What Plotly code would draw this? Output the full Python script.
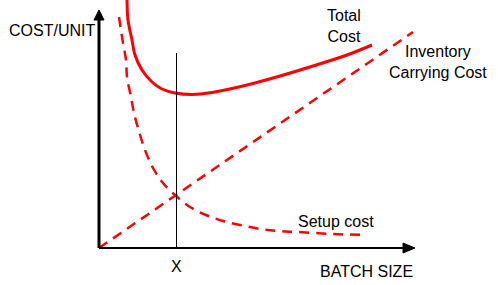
import plotly.graph_objects as go

# Data (units: arbitrary cost/batch units)
total_x = [28, 29, 33, 36, 43, 53, 63, 76, 93, 113, 148, 181, 214, 248, 273]
total_y = [248, 228, 208, 193, 178, 166, 159, 155, 153.5, 155.5, 163, 172, 182, 193, 203]

setup_x = [20, 24, 27, 28, 32, 35, 39, 46, 54, 64, 76, 91, 107, 124, 141, 161, 178, 198, 234, 266]
setup_y = [231, 205, 188, 171, 151, 135, 120, 98, 80, 65, 53, 41, 33, 27, 23, 19, 17, 16, 14, 13]

carry_x = [0, 314]
carry_y = [0, 216]

optimum_x = 77.5
optimum_top = 195

x_axis_end = 316
y_axis_end = 238

RED = "#FF0000"
FONT = "Liberation Sans, Arial, sans-serif"

fig = go.Figure()
fig.add_trace(go.Scatter(x=carry_x, y=carry_y, mode="lines",
                         line=dict(color=RED, width=2.5, dash="10px,7px"), hoverinfo="skip"))
fig.add_trace(go.Scatter(x=setup_x, y=setup_y, mode="lines", line_shape="spline",
                         line=dict(color=RED, width=2.5, dash="10px,7px"), hoverinfo="skip"))
fig.add_trace(go.Scatter(x=total_x, y=total_y, mode="lines", line_shape="spline",
                         line=dict(color=RED, width=3), hoverinfo="skip"))

shapes = [
    # axes
    dict(type="line", x0=0, y0=0, x1=0, y1=y_axis_end - 10, line=dict(color="black", width=3)),
    dict(type="line", x0=0, y0=0, x1=x_axis_end - 10, y1=0, line=dict(color="black", width=2)),
    dict(type="path", path=f"M -5 {y_axis_end-10} L 5 {y_axis_end-10} L 0 {y_axis_end} Z",
         fillcolor="black", line=dict(color="black", width=1)),
    dict(type="path", path=f"M {x_axis_end-12} 5 L {x_axis_end-12} -5 L {x_axis_end} 0 Z",
         fillcolor="black", line=dict(color="black", width=1)),
    # optimum line
    dict(type="line", x0=optimum_x, y0=0, x1=optimum_x, y1=optimum_top, line=dict(color="black", width=1)),
]

def ann(text, x, y, xanchor="center"):
    return dict(text=text, x=x, y=y, xref="x", yref="y", showarrow=False,
                xanchor=xanchor, yanchor="middle", align="center",
                font=dict(family=FONT, size=16, color="black"))

annotations = [
    ann("COST/UNIT", -47, 218),
    ann("Total<br>Cost", 245, 222),
    ann("Inventory<br>Carrying Cost", 339, 186),
    ann("Setup cost", 236.5, 26.5),
    ann("X", 77, -18.5),
    ann("BATCH SIZE", 267, -23),
]

fig.update_layout(
    width=498, height=285,
    margin=dict(l=0, r=0, t=0, b=0),
    paper_bgcolor="white", plot_bgcolor="white",
    showlegend=False,
    xaxis=dict(range=[-99, 399], visible=False, fixedrange=True),
    yaxis=dict(range=[-37, 248], visible=False, fixedrange=True),
    shapes=shapes, annotations=annotations,
)

fig.write_html("out.html", config={"displayModeBar": False})
